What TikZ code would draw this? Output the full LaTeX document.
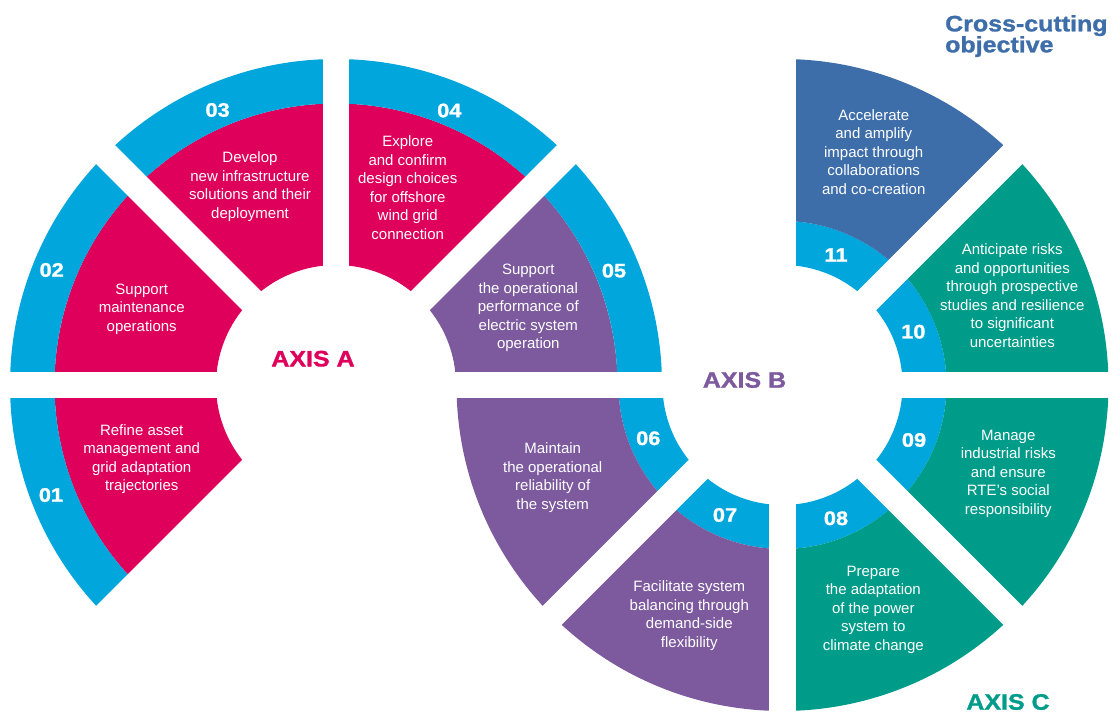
\documentclass[tikz,border=0pt]{standalone}
\usepackage{fontspec}
\setmainfont{Liberation Sans}
\newfontfamily\headfont{Liberation Sans}[FakeStretch=1.12, FakeBold=1.3]

\definecolor{rteRed}{HTML}{DE005A}
\definecolor{rteBand}{HTML}{00A6DC}
\definecolor{rtePurple}{HTML}{7D5A9E}
\definecolor{rteTeal}{HTML}{009C8A}
\definecolor{rteSteel}{HTML}{3E6EAA}

% annular sector: colour, centre x, centre y, start angle, end angle, inner r, outer r
\newcommand{\annsec}[7]{%
  \fill[#1,shift={(#2,#3)}] (#4:#6) arc[start angle=#4,end angle=#5,radius=#6]
    -- (#5:#7) arc[start angle=#5,end angle=#4,radius=#7] -- cycle;}

\tikzset{
  seglabel/.style={text=white, align=center, inner sep=0pt,
    font=\fontsize{15}{18.5}\selectfont},
  numlabel/.style={text=white, inner sep=0pt,
    font=\headfont\bfseries\fontsize{19.5}{20}\selectfont},
  axislabel/.style={inner sep=0pt,
    font=\headfont\bfseries\fontsize{22.3}{24}\selectfont},
  gapline/.style={draw=white, line width=26.6pt}
}

\begin{document}
\begin{tikzpicture}[x=1pt,y=1pt]
\useasboundingbox (0,0) rectangle (1119,714);

\coordinate (cA) at (336,329);
\coordinate (cB) at (782.5,329);

% Axis A wheel: coloured sectors inside, blue band outside
\annsec{rteRed}{336}{329}{45}{225}{120}{281.5}
\annsec{rtePurple}{336}{329}{0}{45}{120}{281.5}
\annsec{rteBand}{336}{329}{0}{225}{281.5}{326}

% Axis B/C wheel: blue band inside, coloured sectors outside
\annsec{rteBand}{782.5}{329}{-180}{90}{120}{164}
\annsec{rteSteel}{782.5}{329}{45}{90}{164}{326}
\annsec{rteTeal}{782.5}{329}{-90}{45}{164}{326}
\annsec{rtePurple}{782.5}{329}{-180}{-90}{164}{326}

% white gaps between the sectors
\foreach \a in {0,45,90,135,180,225}
  \draw[gapline] (cA) -- ++(\a:345);
\foreach \a in {90,45,0,-45,-90,-135,-180}
  \draw[gapline] (cB) -- ++(\a:345);

% sector numbers
\node[numlabel] (n01) at (51,219) {01};
\node[numlabel] (n02) at (51.7,444) {02};
\node[numlabel] (n03) at (217.6,604) {03};
\node[numlabel] (n04) at (449.3,603.5) {04};
\node[numlabel] (n05) at (614,443.3) {05};
\node[numlabel] (n06) at (648.3,275.7) {06};
\node[numlabel] (n07) at (725,199) {07};
\node[numlabel] (n08) at (836,195.7) {08};
\node[numlabel] (n09) at (914,274) {09};
\node[numlabel] (n10) at (913.3,382.3) {10};
\node[numlabel] (n11) at (836,459) {11};

% sector texts
\node[seglabel] (t01) at (141.7,254.8) {Refine asset\\management and\\grid adaptation\\trajectories};
\node[seglabel] (t02) at (141.7,404.7) {Support\\maintenance\\operations};
\node[seglabel] (t03) at (250,527.5) {Develop\\new infrastructure\\solutions and their\\deployment};
\node[seglabel] (t04) at (407.7,526.3) {Explore\\and confirm\\design choices\\for offshore\\wind grid\\connection};
\node[seglabel] (t05) at (528.3,405.7) {Support\\the operational\\performance of\\electric system\\operation};
\node[seglabel] (t06) at (552.7,236.5) {Maintain\\the operational\\reliability of\\the system};
\node[seglabel] (t07) at (689.3,98.5) {Facilitate system\\balancing through\\demand-side\\flexibility};
\node[seglabel] (t08) at (873.3,104.5) {Prepare\\the adaptation\\of the power\\system to\\climate change};
\node[seglabel] (t09) at (1008.3,240.2) {Manage\\industrial risks\\and ensure\\RTE’s social\\responsibility};
\node[seglabel] (t10) at (1012.3,418.2) {Anticipate risks\\and opportunities\\through prospective\\studies and resilience\\to significant\\uncertainties};
\node[seglabel] (t11) at (873.7,562) {Accelerate\\and amplify\\impact through\\collaborations\\and co-creation};

% axis headings
\node[axislabel, text=rteRed] (axA) at (313,355.3) {AXIS A};
\node[axislabel, text=rtePurple] (axB) at (744.5,334) {AXIS B};
\node[axislabel, text=rteTeal] (axC) at (1008,12) {AXIS C};
\node[axislabel, text=rteSteel, align=left, anchor=north west,
      font=\headfont\bfseries\fontsize{22.3}{21}\selectfont] (cross) at (945,699) {Cross-cutting\\objective};
\end{tikzpicture}
\end{document}
